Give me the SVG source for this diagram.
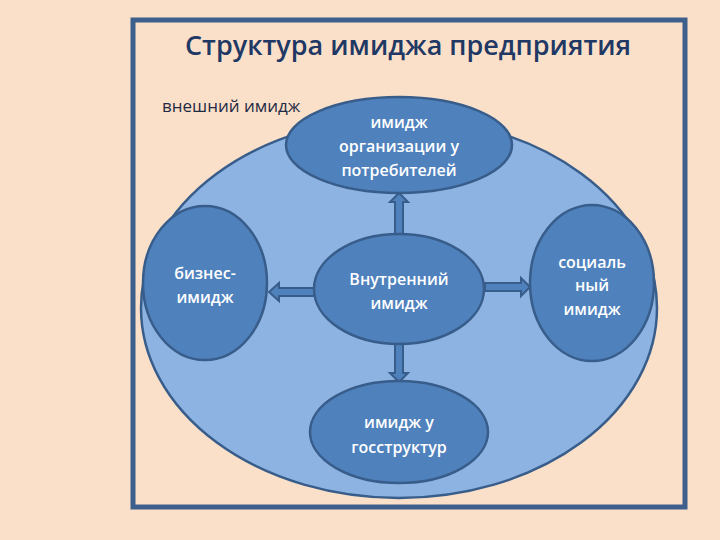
<svg xmlns="http://www.w3.org/2000/svg" width="720" height="540" viewBox="0 0 720 540">
<style>
.node{fill:#4f81bd;stroke:#385d8a;stroke-width:2.5}
.lbl{font-family:"Open Sans","Noto Sans","Liberation Sans",sans-serif;font-size:16px;font-weight:600;fill:#ffffff;text-anchor:middle}
.arr{fill:#4f81bd;stroke:#385d8a;stroke-width:2}
</style>
<rect x="0" y="0" width="720" height="540" fill="#fbe0c9"/>
<rect id="frame" x="133" y="20" width="552" height="487" fill="none" stroke="#3d5f8c" stroke-width="5"/>
<text x="408" y="55" font-family="'Open Sans','Noto Sans','Liberation Sans',sans-serif" font-size="27" font-weight="600" fill="#1f3864" text-anchor="middle">Структура имиджа предприятия</text>
<g id="outer">
<ellipse cx="399" cy="308" rx="258" ry="190" fill="#8db3e2" stroke="#385d8a" stroke-width="2.5"/>
<text x="162" y="112" font-family="'Open Sans','Noto Sans','Liberation Sans',sans-serif" font-size="17" fill="#1f2a44">внешний имидж</text>
</g>
<g id="connectors">
<polygon class="arr" points="395,234 395,202 390,202 399,193 408,202 403,202 403,234"/>
<polygon class="arr" points="315,288 315,296 279,296 279,301 269,292 279,283 279,288"/>
<polygon class="arr" points="485,283 485,291 521,291 521,296 530,287 521,278 521,283"/>
<polygon class="arr" points="395,344 395,373 390,373 399,382 408,373 403,373 403,344"/>
</g>
<g id="top">
<ellipse class="node" cx="399" cy="145" rx="113" ry="48"/>
<text class="lbl" x="399" y="128">имидж</text>
<text class="lbl" x="399" y="152">организации у</text>
<text class="lbl" x="399" y="176">потребителей</text>
</g>
<g id="left">
<ellipse class="node" cx="205" cy="283" rx="62" ry="77"/>
<text class="lbl" x="205" y="279">бизнес-</text>
<text class="lbl" x="205" y="303">имидж</text>
</g>
<g id="center">
<ellipse class="node" cx="399" cy="289" rx="85" ry="55"/>
<text class="lbl" x="399" y="285">Внутренний</text>
<text class="lbl" x="399" y="309">имидж</text>
</g>
<g id="right">
<ellipse class="node" cx="592" cy="283" rx="62" ry="78"/>
<text class="lbl" x="592" y="268">социаль</text>
<text class="lbl" x="592" y="291">ный</text>
<text class="lbl" x="592" y="315">имидж</text>
</g>
<g id="bottom">
<ellipse class="node" cx="399" cy="432" rx="89" ry="51"/>
<text class="lbl" x="399" y="428">имидж у</text>
<text class="lbl" x="399" y="453">госструктур</text>
</g>
</svg>
